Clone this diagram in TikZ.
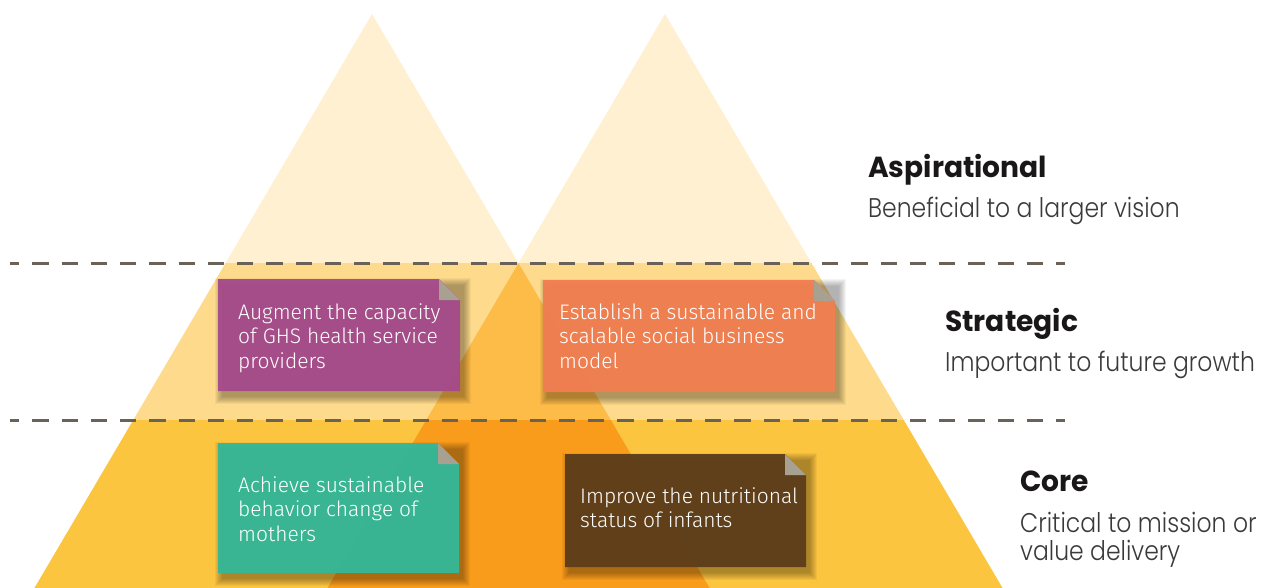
\documentclass[tikz,border=0pt]{standalone}
\usepackage{fontspec}
\IfFontExistsTF{Fira Sans Light}{\newfontfamily\notefont{Fira Sans Light}}{\newfontfamily\notefont{Fira Sans}}
\IfFontExistsTF{Poppins Light}{\newfontfamily\subfont{Poppins Light}[FakeStretch=0.87]}{\newfontfamily\subfont{Poppins}[FakeStretch=0.87]}
\newfontfamily\headfont{Poppins}[FakeStretch=0.97]
\definecolor{bandA}{HTML}{FEF0D1}
\definecolor{bandS}{HTML}{FEDB8C}
\definecolor{bandC}{HTML}{FCC540}
\definecolor{ovS}{HTML}{FDBB48}
\definecolor{ovC}{HTML}{F99C1B}
\definecolor{dashc}{HTML}{6B6257}
\definecolor{npurple}{HTML}{A54A8C}
\definecolor{norange}{HTML}{F27E51}
\definecolor{nteal}{HTML}{33B899}
\definecolor{nbrown}{HTML}{5C3D1A}
\definecolor{foldc}{HTML}{A8A191}
\definecolor{headc}{HTML}{1A1718}
\definecolor{subc}{HTML}{3A3A3A}
\tikzset{
  dashline/.style={draw=dashc, line width=3pt, dash pattern=on 16.25pt off 13pt, dash phase=7pt},
  notetext/.style={text=white, font=\notefont\fontsize{21}{24.5}\selectfont, align=left, inner sep=0pt, anchor=base west},
  headtext/.style={text=headc, font=\headfont\bfseries\fontsize{29}{30}\selectfont, inner sep=0pt, anchor=base west},
  subtext/.style={text=subc, font=\subfont\fontsize{27}{28}\selectfont, align=left, inner sep=0pt, anchor=base west},
}
\newcommand\mknote[9]{%
  % #1 name #2 x1 #3 y1 #4 x2 #5 y2 #6 colour #7 text x #8 baseline of last line #9 text
  \foreach \r in {0,1,...,7} {
    \fill[black, opacity=0.045] ({#2+4-\r},{#3+6-\r}) rectangle ({#4+4+\r},{#5+6+\r});
  }
  \fill[#6, opacity=0.95] (#2,#3) -- ({#4-21},#3) -- (#4,{#3+21}) -- (#4,#5) -- (#2,#5) -- cycle;
  \fill[foldc] ({#4-21},#3) -- ({#4-21},{#3+21}) -- (#4,{#3+21}) -- cycle;
  \node[notetext] (#1) at (#7,#8) {#9};
}
\begin{document}
\begin{tikzpicture}[x=1pt, y=-1pt]
\useasboundingbox (0,0) rectangle (1269,587);
\begin{scope}
  \clip (0,0) rectangle (1269,587);
  % aspirational band
  \begin{scope}
    \clip (0,0) rectangle (1269,263);
    \fill[bandA] (372,14) -- (27.4,600) -- (716.6,600) -- cycle;
    \fill[bandA] (665,14) -- (320.4,600) -- (1009.6,600) -- cycle;
  \end{scope}
  % strategic band
  \begin{scope}
    \clip (0,263) rectangle (1269,420);
    \fill[bandS] (372,14) -- (27.4,600) -- (716.6,600) -- cycle;
    \fill[bandS] (665,14) -- (320.4,600) -- (1009.6,600) -- cycle;
    \clip (372,14) -- (27.4,600) -- (716.6,600) -- cycle;
    \fill[ovS] (665,14) -- (320.4,600) -- (1009.6,600) -- cycle;
  \end{scope}
  % core band
  \begin{scope}
    \clip (0,420) rectangle (1269,600);
    \fill[bandC] (372,14) -- (27.4,600) -- (716.6,600) -- cycle;
    \fill[bandC] (665,14) -- (320.4,600) -- (1009.6,600) -- cycle;
    \clip (372,14) -- (27.4,600) -- (716.6,600) -- cycle;
    \fill[ovC] (665,14) -- (320.4,600) -- (1009.6,600) -- cycle;
  \end{scope}
\end{scope}
% dashed level lines
\coordinate (d1a) at (10,263);
\coordinate (d1b) at (1065,263);
\coordinate (d2a) at (10,420);
\coordinate (d2b) at (1065,420);
\draw[dashline] (d1a) -- (d1b);
\draw[dashline] (d2a) -- (d2b);
% notes
\mknote{augment}{218}{279}{460}{391}{npurple}{238}{368}{Augment the capacity\\of GHS health service\\providers}
\mknote{establish}{543}{280}{835}{392}{norange}{559}{368}{Establish a sustainable and\\scalable social business\\model}
\mknote{achieve}{218}{443}{459}{573}{nteal}{238}{541}{Achieve sustainable\\behavior change of\\mothers}
\mknote{improve}{565}{454}{806}{567}{nbrown}{580}{527.5}{Improve the nutritional\\status of infants}
% level labels
\node[headtext] (asp) at (868,177) {Aspirational};
\node[subtext] (aspsub) at (868,217) {Beneficial to a larger vision};
\node[headtext] (str) at (945,331) {Strategic};
\node[subtext] (strsub) at (945,371) {Important to future growth};
\node[headtext] (core) at (1020,491) {Core};
\node[subtext] (coresub) at (1020,560) {Critical to mission or\\value delivery};
\end{tikzpicture}
\end{document}
